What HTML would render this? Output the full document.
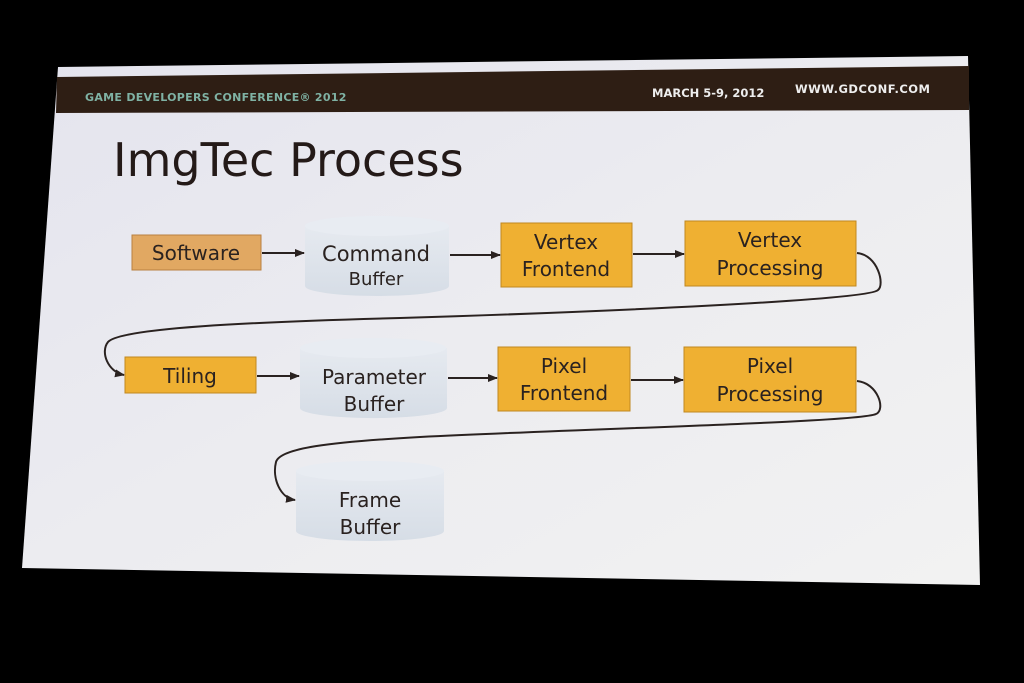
<!DOCTYPE html>
<html><head><style>
html,body{margin:0;padding:0;background:#000;}
svg{display:block;}
text{font-family:"DejaVu Sans","Liberation Sans",sans-serif;fill:#2a2220;}
</style></head><body>
<svg width="1024" height="683" viewBox="0 0 1024 683">
<defs>
<linearGradient id="scr" x1="0" y1="0" x2="1" y2="1">
<stop offset="0" stop-color="#e4e4ee"/><stop offset="0.5" stop-color="#ececf0"/><stop offset="1" stop-color="#f2f2f2"/>
</linearGradient>
<linearGradient id="cyl" x1="0" y1="0" x2="0" y2="1">
<stop offset="0" stop-color="#e6eaf0"/><stop offset="1" stop-color="#d6dde6"/>
</linearGradient>
<marker id="ah" markerWidth="10" markerHeight="10" refX="9" refY="5" orient="auto" markerUnits="userSpaceOnUse">
<path d="M0,1 L10,5 L0,9 Z" fill="#2a2220"/>
</marker>
</defs>
<rect width="1024" height="683" fill="#000"/>
<polygon points="58,67 968,56 980,585 22,568" fill="url(#scr)"/>
<polygon points="57,77 969,66 969,110 56,113" fill="#2e1e14"/>
<text x="85" y="101" font-size="11" font-weight="bold" style="fill:#7fb2a4;letter-spacing:0.3px">GAME DEVELOPERS CONFERENCE® 2012</text>
<text x="652" y="97" font-size="11.5" font-weight="bold" style="fill:#eee">MARCH 5-9, 2012</text>
<text x="795" y="93" font-size="11.5" font-weight="bold" style="fill:#eee;letter-spacing:0.5px">WWW.GDCONF.COM</text>
<text x="113" y="176" font-size="46" style="fill:#241a18">ImgTec Process</text>

<!-- Row 1 -->
<rect x="132" y="235" width="129" height="35" fill="#e1a862" stroke="#b98040"/>
<text x="196" y="260" font-size="20" text-anchor="middle">Software</text>
<g>
<path d="M305,226 L305,286 A72,10 0 0 0 449,286 L449,226 Z" fill="url(#cyl)"/>
<ellipse cx="377" cy="226" rx="72" ry="10" fill="#e8ecf2"/>
</g>
<text x="376" y="261" font-size="21" text-anchor="middle">Command</text>
<text x="376" y="285" font-size="18" text-anchor="middle">Buffer</text>
<rect x="501" y="223" width="131" height="64" fill="#efb032" stroke="#c08820"/>
<text x="566" y="249" font-size="20" text-anchor="middle">Vertex</text>
<text x="566" y="276" font-size="20" text-anchor="middle">Frontend</text>
<rect x="685" y="221" width="171" height="65" fill="#efb032" stroke="#c08820"/>
<text x="770" y="247" font-size="20" text-anchor="middle">Vertex</text>
<text x="770" y="275" font-size="20" text-anchor="middle">Processing</text>

<!-- Row 2 -->
<rect x="125" y="357" width="131" height="36" fill="#efb032" stroke="#c08820"/>
<text x="190" y="383" font-size="20" text-anchor="middle">Tiling</text>
<path d="M300,348 L300,408 A73,10 0 0 0 447,408 L447,348 Z" fill="url(#cyl)"/>
<ellipse cx="373" cy="348" rx="73" ry="10" fill="#e8ecf2"/>
<text x="374" y="384" font-size="20" text-anchor="middle">Parameter</text>
<text x="374" y="411" font-size="20" text-anchor="middle">Buffer</text>
<rect x="498" y="347" width="132" height="64" fill="#efb032" stroke="#c08820"/>
<text x="564" y="373" font-size="20" text-anchor="middle">Pixel</text>
<text x="564" y="400" font-size="20" text-anchor="middle">Frontend</text>
<rect x="684" y="347" width="172" height="65" fill="#efb032" stroke="#c08820"/>
<text x="770" y="373" font-size="20" text-anchor="middle">Pixel</text>
<text x="770" y="401" font-size="20" text-anchor="middle">Processing</text>

<!-- Row 3 -->
<path d="M296,471 L296,531 A74,10 0 0 0 444,531 L444,471 Z" fill="url(#cyl)"/>
<ellipse cx="370" cy="471" rx="74" ry="10" fill="#e8ecf2"/>
<text x="370" y="507" font-size="20" text-anchor="middle">Frame</text>
<text x="370" y="534" font-size="20" text-anchor="middle">Buffer</text>

<!-- arrows -->
<g stroke="#2a2220" stroke-width="2" fill="none" marker-end="url(#ah)">
<line x1="262" y1="253" x2="304" y2="253"/>
<line x1="450" y1="255" x2="500" y2="255"/>
<line x1="633" y1="254" x2="684" y2="254"/>
<line x1="257" y1="376" x2="299" y2="376"/>
<line x1="448" y1="378" x2="497" y2="378"/>
<line x1="631" y1="380" x2="683" y2="380"/>
<path d="M857,253 C878,255 885,285 878,290 C870,300 600,312 400,318 C250,322 120,328 108,342 C100,352 108,372 124,375"/>
<path d="M857,381 C878,383 886,410 876,414 C860,422 600,428 420,437 C330,442 280,448 276,462 C272,478 280,498 295,500"/>
</g>
</svg>
</body></html>
